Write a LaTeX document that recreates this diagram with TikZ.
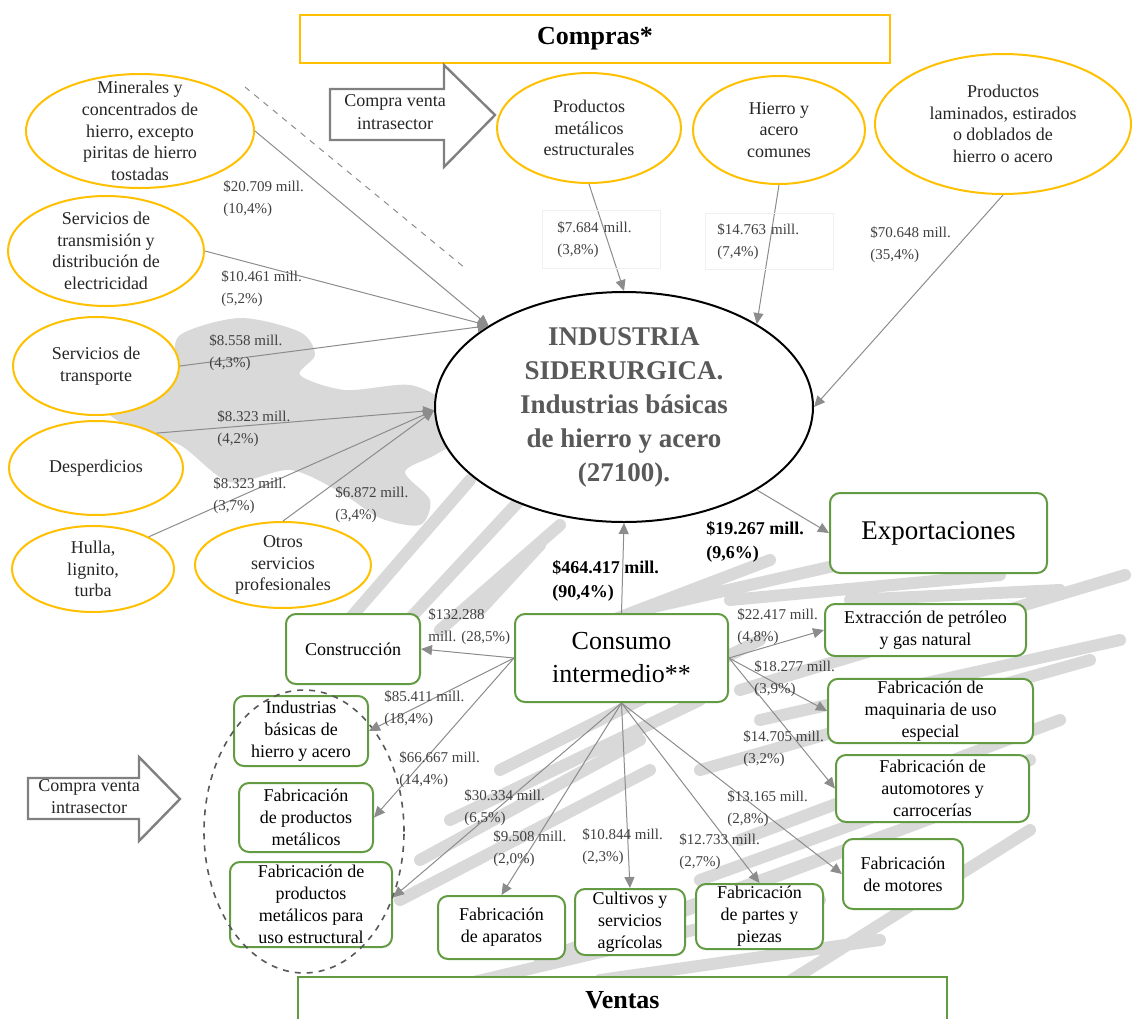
\documentclass[tikz,border=0pt]{standalone}
\usepackage{fontspec}
\setmainfont{Liberation Serif}
\usetikzlibrary{shapes.geometric,arrows.meta}
\definecolor{gold}{RGB}{255,192,0}
\definecolor{leaf}{RGB}{98,155,66}
\definecolor{wire}{RGB}{140,140,140}
\definecolor{ink}{RGB}{64,64,64}
\definecolor{steel}{RGB}{89,89,89}
\definecolor{smudge}{RGB}{217,217,217}

\begin{document}
\begin{tikzpicture}[x=0.5pt,y=-0.5pt,
  yel/.style={ellipse, draw=gold, line width=1pt, fill=white, inner sep=0pt},
  gbox/.style={draw=leaf, line width=1pt, rounded corners=5pt, fill=white, align=center, inner sep=1pt, font=\fontsize{9}{11}\selectfont},
  etxt/.style={align=center, inner sep=0pt, text=black!85, font=\fontsize{9}{10.8}\selectfont},
  lbl/.style={anchor=west, align=left, inner sep=0pt, text=ink, font=\fontsize{7.5}{11}\selectfont},
  blbl/.style={lbl, text=black, font=\bfseries\fontsize{9}{12}\selectfont},
  flow/.style={-{Triangle[length=5.5pt,width=5pt]}, draw=wire, line width=0.5pt},
  fat/.style={draw=black!50, line width=1.2pt, fill=white},
  brush/.style={draw=smudge, line width=6pt, line cap=round}]

\useasboundingbox (0,0) rectangle (1132,1019);
\clip (0,0) rectangle (1132,1019);

% background smudges
\fill[smudge] plot[smooth cycle] coordinates {(180,335) (240,318) (300,332) (315,355) (300,375) (345,390) (410,385) (450,405) (470,432) (435,455) (405,472) (430,500) (420,525) (380,518) (340,492) (290,470) (230,482) (180,445) (125,425) (100,402) (140,385) (172,368)};
\draw[brush] (340,630) -- (470,480) (390,640) -- (520,500) (440,630) -- (560,525) (480,610) -- (540,545)
  (560,640) -- (770,560) (640,610) -- (860,560) (730,600) -- (1000,575) (850,600) -- (1060,590)
  (740,690) -- (1125,575) (760,720) -- (1120,640) (700,770) -- (1090,660) (740,840) -- (1060,720)
  (700,880) -- (1030,760) (660,920) -- (980,800) (540,960) -- (900,830) (440,990) -- (820,900)
  (400,900) -- (650,770) (420,860) -- (640,740) (450,820) -- (700,700) (500,770) -- (760,640)
  (600,980) -- (880,940) (760,1000) -- (1030,830);

\node[draw=gold, line width=1pt, minimum width=295pt, minimum height=24pt, font=\bfseries\fontsize{13}{15}\selectfont] (buy) at (595,39) {Compras*};

\draw[fat] (330,89) -- (444,89) -- (444,65) -- (495,115) -- (444,167) -- (444,140) -- (330,140) -- cycle;
\node[etxt, font=\fontsize{9}{11.5}\selectfont] (swapa) at (395,112) {Compra venta\\intrasector};

\coordinate (cut1) at (245,87);
\coordinate (cut2) at (465,268);
\draw[wire, dashed, line width=0.5pt] (cut1) -- (cut2);

\node[yel, minimum width=114pt, minimum height=57pt, label={[etxt]center:{Minerales y\\concentrados de\\hierro, excepto\\piritas de hierro\\tostadas}}] (min) at (140,131) {};
\node[yel, minimum width=98pt, minimum height=55pt, label={[etxt]center:{Servicios de\\transmisión y\\distribución de\\electricidad}}] (tra) at (106,251) {};
\node[yel, minimum width=83pt, minimum height=49pt, label={[etxt]center:{Servicios de\\transporte}}] (tpt) at (96,366) {};
\node[yel, minimum width=87pt, minimum height=47pt, label={[etxt]center:{Desperdicios}}] (des) at (96,468) {};
\node[yel, minimum width=81pt, minimum height=43pt, label={[etxt]center:{Hulla,\\lignito,\\turba}}] (hul) at (93,569) {};
\node[yel, minimum width=88pt, minimum height=43pt, label={[etxt]center:{Otros\\servicios\\profesionales}}] (otr) at (283,565) {};
\node[yel, minimum width=92pt, minimum height=55pt, label={[etxt]center:{Productos\\metálicos\\estructurales}}] (pme) at (589,128) {};
\node[yel, minimum width=86pt, minimum height=54pt, label={[etxt]center:{Hierro y\\acero\\comunes}}] (hac) at (779,130) {};
\node[yel, minimum width=128pt, minimum height=70pt, label={[etxt]center:{Productos\\laminados, estirados\\o doblados de\\hierro o acero}}] (plm) at (1003,124) {};

\node[ellipse, draw=black, line width=1pt, fill=white, inner sep=0pt, minimum width=189pt, minimum height=115pt, label={[align=center, text=steel, font=\bfseries\fontsize{13.5}{17}\selectfont]center:{INDUSTRIA\\SIDERURGICA.\\Industrias básicas\\de hierro y acero\\(27100).}}] (ind) at (624,407) {};

\node[gbox, minimum width=108.5pt, minimum height=40pt, font=\fontsize{13.5}{16}\selectfont] (exp) at (938.5,533) {Exportaciones};
\node[gbox, minimum width=106.5pt, minimum height=44pt, font=\fontsize{13}{16.5}\selectfont] (con) at (621.5,658) {Consumo\\intermedio**};
\node[gbox, minimum width=67pt, minimum height=35pt] (cons) at (353,649) {Construcción};
\node[gbox, minimum width=100.5pt, minimum height=26pt] (ext) at (925.5,630) {Extracción de petróleo\\y gas natural};
\node[gbox, minimum width=102.5pt, minimum height=32pt] (fmq) at (930.5,711) {Fabricación de\\maquinaria de uso\\especial};
\node[gbox, minimum width=96.5pt, minimum height=33.5pt] (fau) at (932.5,788.5) {Fabricación de\\automotores y\\carrocerías};
\node[gbox, minimum width=60pt, minimum height=35pt] (fmo) at (903,874) {Fabricación\\de motores};
\node[gbox, minimum width=63.5pt, minimum height=32.5pt] (fpp) at (759.5,916.5) {Fabricación\\de partes y\\piezas};
\node[gbox, minimum width=55pt, minimum height=33pt] (cul) at (630,922) {Cultivos y\\servicios\\agrícolas};
\node[gbox, minimum width=63.5pt, minimum height=31.5pt] (fap) at (501.5,927.5) {Fabricación\\de aparatos};
\node[gbox, minimum width=67pt, minimum height=35pt] (ibh) at (301,731) {Industrias\\básicas de\\hierro y acero};
\node[gbox, minimum width=67pt, minimum height=34.5pt] (fpm) at (306,817.5) {Fabricación\\de productos\\metálicos};
\node[gbox, minimum width=81pt, minimum height=42.5pt] (fpe) at (311,904.5) {Fabricación de\\productos\\metálicos para\\uso estructural};
\node[ellipse, draw=black!65, dashed, line width=0.8pt, minimum width=100pt, minimum height=141.5pt] (grp) at (304,831.5) {};

\draw[fat] (28,778) -- (139,778) -- (139,757) -- (180,799) -- (139,841) -- (139,819) -- (28,819) -- cycle;
\node[etxt, font=\fontsize{9}{11}\selectfont] (swapb) at (89,797) {Compra venta\\intrasector};

\node[draw=leaf, line width=1pt, fill=white, minimum width=324.5pt, minimum height=23pt, font=\bfseries\fontsize{13}{15}\selectfont] (sell) at (622.5,1000) {Ventas};

\draw[flow] (min.east) -- (ind.149);
\draw[flow] (tra.east) -- (ind.149);
\draw[flow] (tpt.east) -- (ind.149);
\draw[flow] (des.30) -- (ind.181);
\draw[flow] (hul.30) -- (ind.181);
\draw[flow] (otr.north) -- (ind.181);
\draw[flow] (pme.south) -- (ind.north);
\draw[flow] (hac.south) -- (ind.32);
\draw[flow] (plm.south) -- (ind.east);
\draw[flow] (ind.-32) -- (exp.west);
\draw[flow] (con.north) -- (ind.south);
\draw[flow] (con.west) -- (cons.east);
\draw[flow] (con.west) -- (ibh.east);
\draw[flow] (con.west) -- (fpm.east);
\draw[flow] (con.south) -- (fpe.5);
\draw[flow] (con.south) -- (fap.north);
\draw[flow] (con.south) -- (cul.north);
\draw[flow] (con.south) -- (fpp.north);
\draw[flow] (con.south) -- (fmo.west);
\draw[flow] (con.east) -- (ext.west);
\draw[flow] (con.east) -- (fmq.west);
\draw[flow] (con.east) -- (fau.west);

\node[lbl] (v1) at (223,198.5) {\$20.709 mill.\\(10,4\%)};
\node[lbl] (v2) at (221,288.5) {\$10.461 mill.\\(5,2\%)};
\node[lbl] (v3) at (209,353) {\$8.558 mill.\\(4,3\%)};
\node[lbl] (v4) at (217,428.5) {\$8.323 mill.\\(4,2\%)};
\node[lbl] (v5) at (213,495.5) {\$8.323 mill.\\(3,7\%)};
\node[lbl] (v6) at (335,504.5) {\$6.872 mill.\\(3,4\%)};
\node[lbl, anchor=north west, draw=black!6, inner xsep=7.5pt, text width=44pt, minimum height=29pt] (v7) at (542,210) {\$7.684 mill.\\(3,8\%)};
\node[lbl, anchor=north west, draw=black!6, inner xsep=6pt, text width=52pt, minimum height=28pt] (v8) at (705,213) {\$14.763 mill.\\(7,4\%)};
\node[lbl] (v9) at (870,245) {\$70.648 mill.\\(35,4\%)};
\node[blbl] (v10) at (706,542) {\$19.267 mill.\\(9,6\%)};
\node[blbl] (v11) at (552,581) {\$464.417 mill.\\(90,4\%)};
\node[lbl] (v12) at (428,627) {\$132.288\\mill. (28,5\%)};
\node[lbl] (v13) at (384,708.5) {\$85.411 mill.\\(18,4\%)};
\node[lbl] (v14) at (399,770) {\$66.667 mill.\\(14,4\%)};
\node[lbl] (v15) at (464,808) {\$30.334 mill.\\(6,5\%)};
\node[lbl] (v16) at (493,849) {\$9.508 mill.\\(2,0\%)};
\node[lbl] (v17) at (582,847) {\$10.844 mill.\\(2,3\%)};
\node[lbl] (v18) at (679,852) {\$12.733 mill.\\(2,7\%)};
\node[lbl] (v19) at (727,808.5) {\$13.165 mill.\\(2,8\%)};
\node[lbl] (v20) at (743,749) {\$14.705 mill.\\(3,2\%)};
\node[lbl] (v21) at (754,678.5) {\$18.277 mill.\\(3,9\%)};
\node[lbl] (v22) at (737,626.5) {\$22.417 mill.\\(4,8\%)};
\end{tikzpicture}
\end{document}
